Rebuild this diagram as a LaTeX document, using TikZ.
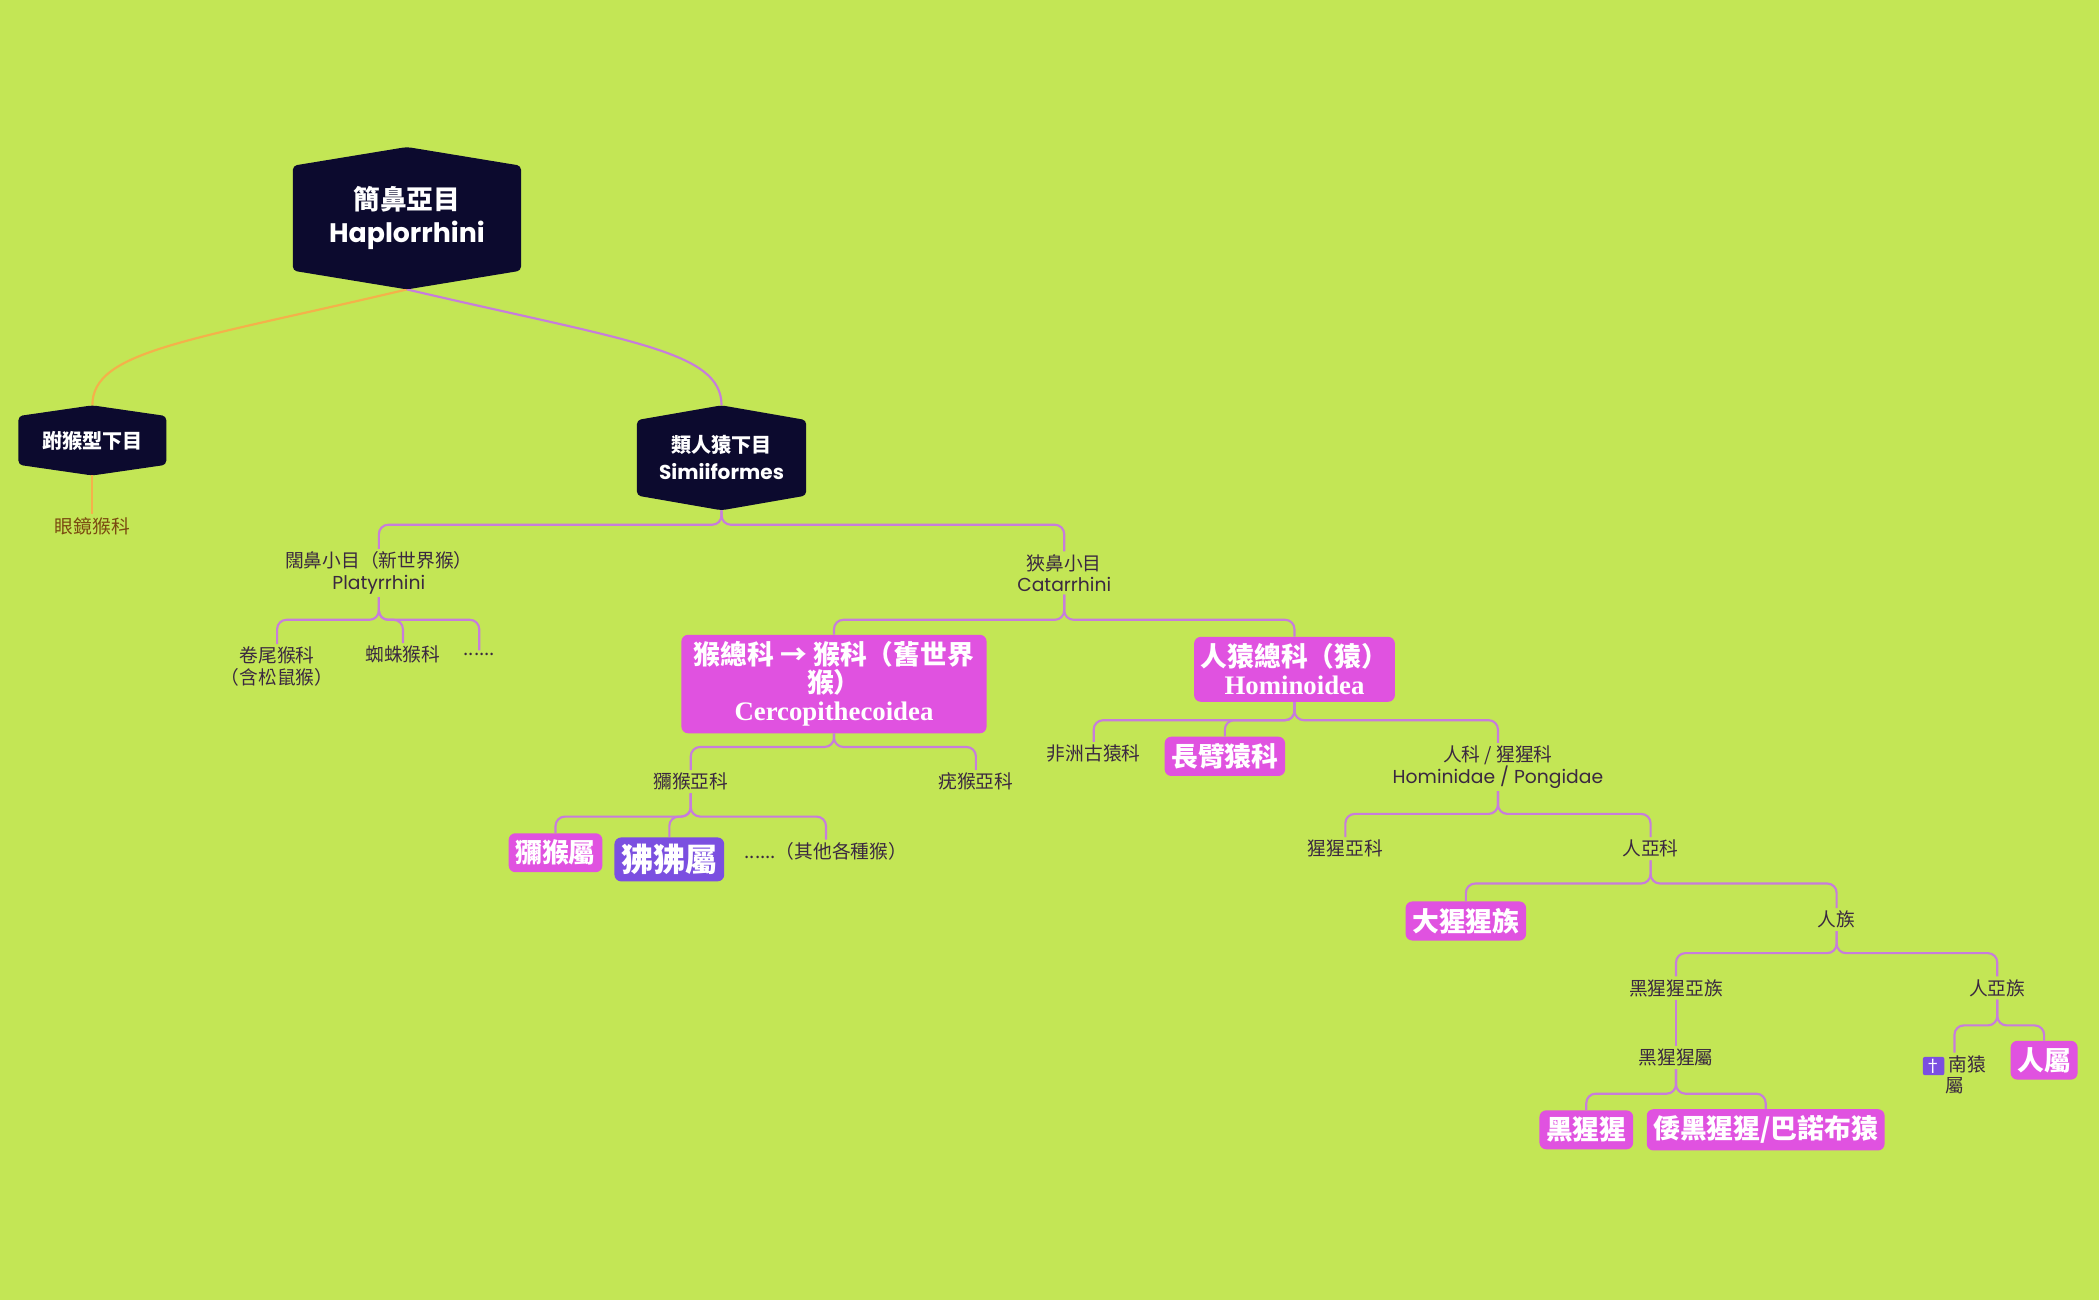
\documentclass[tikz,border=0pt]{standalone}
\usepackage{fontspec}
\setmainfont{Noto Sans CJK TC}
\newfontfamily\latf{Poppins}
\newfontfamily\serf{Liberation Serif}
\usetikzlibrary{backgrounds}
\definecolor{bgcol}{HTML}{C3E655}
\definecolor{navy}{HTML}{0C0A2E}
\definecolor{lilac}{HTML}{C77DDB}
\definecolor{magbox}{HTML}{E052E0}
\definecolor{violbox}{HTML}{7B4FE0}
\definecolor{txt}{HTML}{3A2840}
\definecolor{brownt}{HTML}{7A4A10}
\definecolor{orangel}{HTML}{F4B14A}
\tikzset{
  lbl/.style={text=txt, font=\fontsize{14}{16}\selectfont, align=center, inner sep=2pt},
  box/.style={fill=magbox, rounded corners=5pt, text=white, font=\bfseries\fontsize{20}{20}\selectfont, align=center, inner sep=5pt},
  hex/.style={text=white, font=\bfseries, align=center, inner sep=0pt},
  conn/.style={draw=lilac, line width=1.6pt, rounded corners=7pt},
}
% parent, child, y of bar
\newcommand{\branch}[3]{\draw[conn] (#1.south) -- (#1.south |- 0,#3) -| (#2.north);}
\newcommand{\hexfill}[2]{% node, tip height
  \fill[navy, rounded corners=3pt] ([yshift=-#2]#1.north west) -- (#1.north) -- ([yshift=-#2]#1.north east)
    -- ([yshift=#2]#1.south east) -- (#1.south) -- ([yshift=#2]#1.south west) -- cycle;}
\begin{document}
\begin{tikzpicture}[x=1pt, y=-1pt]
  \useasboundingbox (0,0) rectangle (1568,971);
  % hexagons
  \node[hex, minimum width=170pt, minimum height=106pt, font=\bfseries\fontsize{20}{25}\selectfont] (hap) at (304,163) {簡鼻亞目\\{\latf\bfseries Haplorrhini}};
  \node[hex, minimum width=110pt, minimum height=52pt, font=\bfseries\fontsize{15}{18}\selectfont] (tar) at (69,329) {跗猴型下目};
  \node[hex, minimum width=126pt, minimum height=78pt, font=\bfseries\fontsize{15}{20}\selectfont] (sim) at (539,342) {類人猿下目\\{\latf\bfseries Simiiformes}};
  \begin{scope}[on background layer]
    \fill[bgcol] (0,0) rectangle (1568,971);
    \draw[orangel, line width=1.6pt] (hap.south) .. controls (140,255) and (69,262) .. (tar.north);
    \draw[lilac, line width=1.6pt] (hap.south) .. controls (470,255) and (539,262) .. (sim.north);
    \hexfill{hap}{14pt}
    \hexfill{tar}{8pt}
    \hexfill{sim}{11pt}
  \end{scope}
  \node[lbl, text=brownt] (tars) at (69,393) {眼鏡猴科};
  \draw[orangel, line width=1.6pt] (tar.south) -- (tars.north);
  % Simiiformes
  \node[lbl] (pla) at (283,428) {闊鼻小目（新世界猴）\\{\latf Platyrrhini}};
  \node[lbl] (cat) at (795,428) {狹鼻小目\\{\latf Catarrhini}};
  \branch{sim}{pla}{392}
  \branch{sim}{cat}{392}
  \node[lbl] (cap) at (207,498) {卷尾猴科\\（含松鼠猴）};
  \node[lbl] (ate) at (301,489) {蜘蛛猴科};
  \node[lbl] (pmo) at (358,489) {......};
  \branch{pla}{cap}{463}
  \branch{pla}{ate}{463}
  \branch{pla}{pmo}{463}
  \node[box, minimum width=228pt, font=\bfseries\fontsize{20}{21}\selectfont] (cer) at (623,511) {猴總科 → 猴科（舊世界\\猴）\\{\serf\bfseries Cercopithecoidea}};
  \node[box, font=\bfseries\fontsize{20}{21}\selectfont] (hom) at (967,500) {人猿總科（猿）\\{\serf\bfseries Hominoidea}};
  \branch{cat}{cer}{463}
  \branch{cat}{hom}{463}
  % Cercopithecoidea
  \node[lbl] (cerc) at (516,584) {獼猴亞科};
  \node[lbl] (colo) at (729,584) {疣猴亞科};
  \branch{cer}{cerc}{558}
  \branch{cer}{colo}{558}
  \node[box] (mac) at (415,637) {獼猴屬};
  \node[box, fill=violbox, font=\bfseries\fontsize{24}{24}\selectfont] (pap) at (500,642) {狒狒屬};
  \node[lbl] (oth) at (617,636) {......（其他各種猴）};
  \branch{cerc}{mac}{610}
  \branch{cerc}{pap}{610}
  \branch{cerc}{oth}{610}
  % Hominoidea
  \node[lbl] (afr) at (817,563) {非洲古猿科};
  \node[box] (hyl) at (915,565) {長臂猿科};
  \node[lbl] (hmd) at (1119,573) {人科 / 猩猩科\\{\latf Hominidae / Pongidae}};
  \branch{hom}{afr}{538}
  \branch{hom}{hyl}{538}
  \branch{hom}{hmd}{538}
  \node[lbl] (pon) at (1005,634) {猩猩亞科};
  \node[lbl] (hmn) at (1233,634) {人亞科};
  \branch{hmd}{pon}{608}
  \branch{hmd}{hmn}{608}
  \node[box] (gor) at (1095,688) {大猩猩族};
  \node[lbl] (hni) at (1372,687) {人族};
  \branch{hmn}{gor}{660}
  \branch{hmn}{hni}{660}
  \node[lbl] (pni) at (1252,738) {黑猩猩亞族};
  \node[lbl] (hna) at (1492,738) {人亞族};
  \branch{hni}{pni}{712}
  \branch{hni}{hna}{712}
  \node[lbl] (pan) at (1252,790) {黑猩猩屬};
  \draw[conn] (pni.south) -- (pan.north);
  \node[box] (trog) at (1185,844) {黑猩猩};
  \node[box] (pani) at (1319,844) {倭黑猩猩/巴諾布猿};
  \branch{pan}{trog}{817}
  \branch{pan}{pani}{817}
  \node[lbl] (aus) at (1460,803) {\tikz[baseline=-4pt]\node[fill=violbox, text=white, rounded corners=1.5pt, inner sep=1.5pt, font=\fontsize{13}{13}\selectfont]{†};~南猿\\屬};
  \node[box] (homo) at (1527,792) {人屬};
  \branch{hna}{aus}{766}
  \branch{hna}{homo}{766}
\end{tikzpicture}
\end{document}
